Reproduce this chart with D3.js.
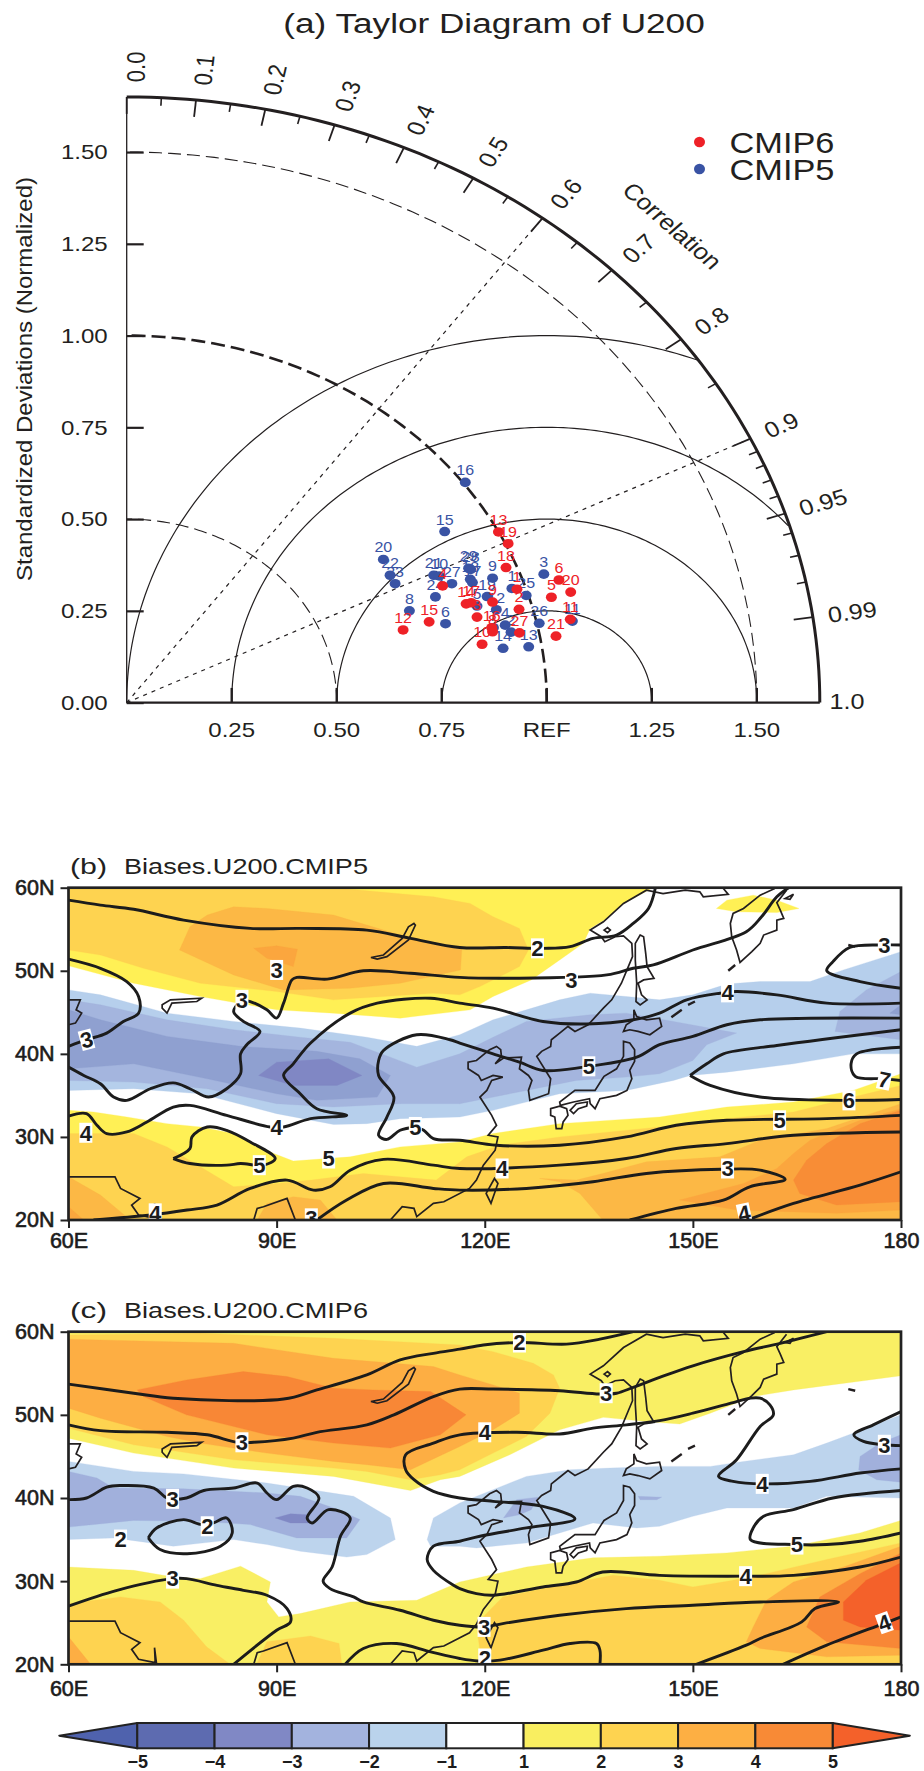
<!DOCTYPE html>
<html>
<head>
<meta charset="utf-8">
<script src="https://cdn.jsdelivr.net/npm/d3@7"></script>
<style>
  html, body { margin: 0; padding: 0; background: #fff; }
  svg { display: block; font-family: "Liberation Sans", Arial, sans-serif; }
</style>
</head>
<body>
<svg id="chart" width="924" height="1771"></svg>
<script>
// ---- (a) taylor diagram values, x = std*corr, y = std*sin(acos(corr))
const cmip5Labels = [16, 15, 20, 22, 23, 8, 21, 10, 27, 24, 6, 29, 28, 18, 17, 9, 19, 12, 5, 1, 25, 3, 26, 11, 4, 7, 2, 14, 13];
const cmip5X = [.806, .757, .611, .627, .639, .673, .731, .744, .774, .735, .759, .814, .819, .818, .823, .871, .858, .880, .834, .917, .951, .993, .982, 1.061, .901, .873, .915, .896, .957];
const cmip5Y = [.600, .466, .390, .347, .324, .250, .347, .345, .324, .288, .215, .366, .363, .336, .327, .339, .289, .253, .263, .311, .292, .350, .216, .222, .211, .204, .192, .148, .152];
const cmip6Labels = [13, 19, 18, 6, 20, 5, 1, 2, 9, 14, 4, 17, 3, 15, 12, 16, 8, 10, 27, 21, 11];
const cmip6X = [.885, .908, .903, 1.029, 1.057, 1.011, .929, .934, .871, .808, .752, .820, .834, .720, .658, .869, .871, .846, .935, 1.022, 1.056];
const cmip6Y = [.465, .433, .368, .334, .301, .287, .309, .254, .274, .269, .318, .272, .233, .220, .198, .204, .193, .159, .190, .181, .227];

const stdTicks = [0, .25, .5, .75, 1, 1.25, 1.5];
const stdBottomLabels = ["0.25", "0.50", "0.75", "REF", "1.25", "1.50"];
const corrMajor = [0, .1, .2, .3, .4, .5, .6, .7, .8, .9, .95, .99];
const corrMinor = [.05, .15, .25, .35, .45, .55, .65, .75, .85, .91, .92, .93, .94, .96, .97, .98];
const corrLines = [.6, .9];
const rmsRadii = [.25, .5, .75, 1];

// ---- coastlines, lon/lat
const coastMain = [[106.4,20],[108.1,21.6],[109.8,21.4],[110.2,20.4],[112.6,22],[114.1,22.2],[117.8,23.8],[118.8,24.8],[119.8,26.6],[121.5,28.4],[121.9,30],[120.5,30.2],[121.7,31.4],[121,32.6],[119.3,34.8],[120.3,35.6],[121,36.8],[122.6,37.2],[121.2,37.4],[119.5,36.8],[119.1,37.4],[117.6,38.2],[117.6,39],[118.8,39.2],[120.7,40.5],[121.7,40.9],[122.3,40.5],[122.4,39.7],[121.5,38.8],[122.7,39.5],[125.3,39.6],[125,38.2],[126.3,37.4],[126.8,36.8],[126.3,35.6],[126.5,34.4],[129.2,35.2],[129.5,37],[127.5,39.7],[128.2,40.3],[129.5,40.9],[129.6,41.7],[130.8,42.5],[132,43.3],[133,42.7],[134.9,43.5],[137.1,45.5],[138.3,46.5],[139.7,48.5],[140.5,50.1],[141.3,51.7],[141.2,53.3],[140,54.2],[138.8,54.1],[137.3,53.5],[136.8,54.1],[135.2,54.9],[137.1,55.9],[140,58.1],[143.3,59.7],[145.7,59.3],[148.9,59.7],[151,59.5],[151.5,58.9],[155.1,59.2],[154.4,59.9]];
const coastKamchatka = [[161.8,59.9],[159.7,59.1],[157.3,57.5],[155.8,56.9],[155.4,55.7],[155.6,54.1],[156.3,52.5],[156.8,51],[158.5,52.3],[159.7,53.3],[160.2,54.3],[162.1,54.9],[162.1,56.1],[163.1,56.3],[162.6,57.3],[162.1,58.2],[163.5,59.7]];
const coastIndiaWest = [[60,25.2],[63.8,25.2],[66.7,25.2],[67.5,23.8],[70.3,22.6],[69.1,21.8],[70.1,20.6],[72.5,20.2],[72.4,22],[72.7,20]];
const coastIndiaEast = [[86.7,20],[87.2,21.4],[88.1,21.6],[91.5,22.6],[92.7,20]];
const coastAral = [[60,46.5],[61.7,46.5],[61.1,45.3],[61.9,44.9],[61,43.7],[60,43.5]];
const coastKuril1 = [[146.9,44.4],[148.4,45.3]];
const coastKuril2 = [[149.3,45.9],[150.3,46.3]];
const coastKuril3 = [[155.1,50],[156.1,50.7]];
const coastDot = [[172.4,53.1],[173.4,52.9]];
const islandSakhalin = [[142.4,54.3],[142.9,54.1],[143.2,52.1],[143.4,50.5],[144.4,49.1],[142.9,48.9],[142.1,48.5],[142.6,47.1],[143.4,46.5],[142.4,45.9],[141.8,46.3],[141.9,48.5],[141.7,51.3],[141.7,53.3]];
const islandHokkaido = [[141.5,45.3],[141.9,44.5],[143.3,44.1],[145.2,44.3],[145.5,43.3],[143.8,42.3],[142.1,42.7],[140.9,42.9],[140,42.7],[140.4,43.5],[141.5,44.1]];
const islandHonshu = [[140,41.5],[140.9,41.3],[141.6,40.5],[141.6,39.1],[140.9,38],[141.2,37],[140.5,35.6],[139,35],[136.6,34.6],[135.9,33.4],[135.2,34],[135.1,34.6],[132.8,34.2],[130.9,33.8],[130.8,34.2],[133,35.6],[135.9,35.6],[136.8,36.8],[137.2,37.3],[139,38.2],[140,39.7],[140,40.9]];
const islandKyushu = [[129.5,33.4],[130.8,33.7],[131.8,33.4],[132,32.6],[131.3,31.8],[131.1,31],[130.3,31],[130.1,32.4],[129.5,32.6]];
const islandShikoku = [[132.3,33.2],[133.2,34],[134.8,34.2],[134.7,33.7],[133.5,33.4],[132.8,32.8]];
const islandTaiwan = [[121.4,25],[120.2,23.2],[120.9,22],[121.9,24.4]];
const islandShantar = [[137.2,54.9],[137.7,55.2],[138.1,54.9],[137.7,54.6]];
const islandKaragin = [[163.3,58.7],[164.5,59.2],[164,58.6]];
const lakeBaikal = [[109.8,55.7],[110,55.5],[109,53.7],[105.9,51.7],[104.5,51.4],[103.6,51.6],[105.4,51.9],[108.1,53.9],[109,55.3]];
const lakeBalkhash = [[73.5,45.9],[74.7,46.5],[79.2,46.7],[78.5,46.3],[74.9,46.1],[74.2,44.9],[73.5,45.5]];

// ---- (b) shaded bias regions, lon/lat
const bYellowTop = [[60,50.6],[69.4,48.5],[79,46.9],[90,45.3],[98.2,44.9],[107.8,44.3],[117.9,45.3],[121.2,46.9],[126.7,48.9],[130.8,51.3],[134.2,53.3],[135.2,55.1],[137.6,56.3],[140,58.1],[143.8,59.8],[144.2,60],[60,60]];
const bYellowPatch = [[153.4,57.5],[154.9,58.5],[158.7,59.1],[162.1,58.5],[165.3,57.5],[162.1,57],[156.3,57.1]];
const bGoldTop = [[60,60],[98.2,60],[112.6,58.9],[117.9,58.1],[121.2,56.5],[125,55.1],[126.3,52.5],[125,50.5],[119.3,48.1],[116.4,47.1],[112.6,47.3],[105.4,46.9],[98.2,46.5],[90,47.5],[79,48.5],[70.8,50.3],[64.6,51.9],[60,52.5]];
const bOrangeTop = [[80,56.7],[83.8,57.7],[88.6,57.5],[98.2,56.7],[107.8,54.3],[116.7,52.7],[116.5,50.1],[107.8,48.5],[100.6,47.9],[91,47.7],[83.8,49.5],[76,52.5],[77.5,55.3]];
const bDeepTop = [[86.7,52.7],[90,53],[93,52.6],[92.4,50.5],[88.6,51.5]];
const bBlueLight = [[60,47.7],[64.6,47.1],[74.2,44.9],[83.8,43.9],[93.4,43.1],[103,42],[110.2,40.9],[116.4,42.3],[121.2,44.1],[126,45.3],[130.8,46.5],[135.2,47.3],[140.4,46.9],[145.2,46.5],[150,47.1],[154.9,48.4],[159.7,48.7],[166.9,48.7],[171.7,50.1],[180,52.3],[180,40],[173.1,40],[164.5,38.8],[154.9,37.8],[149.6,37.4],[147.2,36.8],[140.4,35.6],[130.8,35.2],[121.2,33.2],[116.4,32.4],[107.8,32.2],[103,31.6],[98.2,31.5],[90,32.8],[79,35.2],[69.4,35.8],[60,35.6]];
const bBlueMid = [[60,46.5],[64.6,45.9],[74.2,44.1],[83.8,42.9],[93.4,42],[100.6,41.4],[106.4,39.6],[110.2,38.4],[116.4,40],[121.2,42],[126,43.9],[135.2,44.7],[140.4,44.9],[147.2,43.9],[156.3,42.5],[152,41.1],[150,39.2],[145.2,37.6],[140.4,37.2],[133.2,36.8],[126,35.6],[116.4,34],[107.8,34],[98.2,33.6],[90,34],[80,35.8],[69.4,36.6],[60,36.8]];
const bBlueMidEast = [[170.5,42.7],[171.2,45.1],[175,47.7],[180,49.9],[180,41.7]];
const bBlueDark = [[60,45.3],[64.6,44.1],[74.2,42.1],[84.8,40.9],[95.8,40.3],[102,39.4],[106.4,37.4],[104.5,34.8],[95.8,34.4],[90,35.2],[80,37],[69.4,38.8],[60,38.2]];
const bBlueDarkEast = [[178.4,44.9],[180,45.9],[180,44.7]];
const bBlueDeep = [[87.4,37.4],[90,39],[97.5,39.4],[102.3,37.4],[98.7,36.2],[92.4,36.2]];
const bYellowLow = [[60,33.2],[63.6,33],[68.4,32.4],[74.2,31.6],[79,31.2],[83.8,30.4],[89.6,28],[92.4,27.1],[100.6,27.6],[107.8,28.8],[116.4,29.4],[121.2,30.4],[130.8,31.6],[145.2,32.4],[154.9,33.6],[164.5,34.2],[173.1,35.6],[180,37.6],[180,20],[60,20]];
const bGoldLow = [[60,30.4],[69.4,30.4],[74.2,28.8],[79,26.4],[83.8,24],[90,24.4],[95,24.8],[102.5,25.6],[113,24.8],[117.4,27.6],[122.2,29],[130.8,30],[145.2,31.2],[154.9,32.2],[164.5,33],[173.1,34.8],[180,36.2],[180,20],[60,20]];
const bOrangeSW = [[60,25.2],[64.6,23],[68.9,20],[60,20]];
const bDeepSW = [[60,21.6],[62.2,20],[60,20]];
const bOrangeMid = [[87.2,20],[88.6,22],[92.4,22.8],[96.3,22.4],[98.7,20]];
const bOrangeEast = [[127.9,25],[133.2,24.8],[137,25.6],[143.3,27],[153.9,27.6],[159.7,29.6],[169.3,31],[180,34],[180,20],[137,20],[133.7,23.2],[130.8,24.6]];
const bDeepEast = [[148.1,22.4],[157.3,24.4],[162.1,26.2],[164.5,28],[166.9,29.6],[174.1,32],[180,33.4],[180,21.2],[170.7,20.8],[156.3,21.2]];
const bStrongEast = [[164.5,24.8],[166.4,27.2],[169.3,29.2],[174.1,31.6],[180,33.2],[180,22.2],[170.7,21.8],[165.4,23.2]];

// ---- (b) contour lines
const bLine2 = [[60,58.5],[64.6,57.9],[69.4,57.4],[76.6,56.1],[86.2,55.1],[93.4,55.1],[103,54.9],[109.3,53.9],[116.4,52.8],[123.1,52.8],[128.4,52.7],[132.3,52.9],[135.6,53.9],[139,54.3],[141.4,55.7],[143.6,57.5],[144.6,60]];
const bLine3a = [[85,46.5],[86.2,46.3],[88.6,45.3],[90,44.3],[91,46.1],[92.2,48.9],[92.9,49.2],[97.3,49],[102.5,50],[109.3,49.7],[116.4,49.2],[123.6,49.1],[137.6,49.5],[141.4,50.3],[144.3,50.7],[150,52.5],[157.7,54.7],[159.9,56.5],[162.1,58.9],[163.8,60]];
const bLine3b = [[85,46.5],[83.8,45.1],[85.2,43.9],[87.6,42.7],[85.7,41.1],[84.8,40],[84.8,37.6],[82.8,35.8],[80.2,34.8],[77.5,35.8],[75.1,36.5],[71.8,35.8],[68.4,34.4],[66.5,34.8],[64.6,36.4],[62.2,37.4],[60,38.4]];
const bLine3c = [[60,51.4],[64.6,50.3],[68.4,48.7],[70.1,46.9],[70.1,44.9],[67.9,43.9],[65.5,42.5],[62.6,41.7],[60,40.9]];
const bLine4a = [[60,32.5],[62.6,32.8],[64.1,31.4],[65.5,30.4],[68.4,30.6],[71.3,31.8],[75.1,33.6],[77.5,33.8],[82.8,32.6],[89.1,31.2],[91,31.2],[94.9,32.2],[100.1,32.6],[95.8,33.4],[93.4,35.2],[91,37.4],[92.4,38.8],[94.9,41.3],[100.6,44.9],[104.5,46.1],[112.2,46.7],[116.4,46.1],[121.2,45.5],[128.4,43.9],[134.7,43.6],[141.4,44.1],[145.2,44.9],[149.1,46.5],[153.9,47.3],[156.3,47.5],[162.1,47.1],[169.3,46.1],[180,46.1]];
const bLine5a = [[110,31.2],[107.8,30.8],[105.9,29.7],[104.7,30.2],[105.9,32.4],[106.9,34.8],[104.7,37.4],[104.7,39.2],[105.4,40.4],[110.2,42.3],[115,41.7],[116.4,41.3],[121.2,40],[125,39],[128.4,38],[134.2,38.4],[141.9,39.6],[145.2,41.1],[150,42.1],[154.9,43.5],[159.7,44.1],[180,44.3]];
const bLine5b = [[110,31.2],[111.2,30.8],[112.6,29.8],[116.4,29.6],[121.7,29],[130.8,29],[140.4,30],[147.6,31.4],[154.9,32],[169.3,32.2],[180,32.6]];
const bLine5c = [[75.1,27.4],[77.5,28.6],[77.8,30],[80,31.2],[82.8,30.8],[86.2,29.4],[89.8,27.4],[88.1,26.6],[84.8,26.8],[82.8,26.6],[77.5,26.8],[75.1,27.4]];
const bLine4b = [[63.6,20],[71.8,20.6],[77.1,21.2],[81.4,21.8],[86.2,23.8],[91.5,24.8],[95.3,23.6],[97.7,24],[100.6,26],[105.4,27.3],[112.6,26.6],[116.4,26.2],[130.8,26.6],[140.4,27.4],[147.6,28.6],[154.9,29.2],[164.5,30.2],[180,30.6]];
const bLine3d = [[95.8,20],[100.1,22.4],[105.4,24.4],[112.6,23.8],[116.4,23.6],[126,23.8],[135.6,24.6],[143.3,25.6],[154.1,26.1],[159.7,26],[163.3,24.9],[158.2,24],[154.4,22.4],[147.6,21.4],[140.9,20]];
const bLine4c = [[158.5,20.2],[164.5,22],[174.1,24.2],[180,25.8]];
const bLine6a = [[149.6,37.4],[152,38.8],[154.4,40],[162.1,41],[180,42.9]];
const bLine6b = [[149.6,37.4],[152.5,36.2],[159.7,34.8],[171.7,34.4],[180,34.5]];
const bLine7 = [[180,40.8],[173.6,40],[172.8,38.8],[173.4,37.3],[177.5,37],[180,36.8]];
const bLine3e = [[180,53.1],[177.5,53.1],[172.6,52.8],[170.2,51.1],[169.3,50],[174.1,48.7],[180,47.9]];
// [lon, lat, text, tilt]
const bLabels = [[127.6,52.7,"2",0],[132.5,48.9,"3",0],[85,46.5,"3",0],[90,50.1,"3",0],[62.6,41.7,"3",-15],[62.5,30.5,"4",0],[90,31.2,"4",0],[110,31.2,"5",0],[97.5,27.4,"5",0],[87.5,26.6,"5",0],[72.5,20.8,"4",0],[95,20.2,"3",0],[155,47.4,"4",0],[177.6,53.1,"3",0],[135,38.5,"5",0],[177.6,36.9,"7",12],[172.5,34.4,"6",0],[162.5,32,"5",0],[122.5,26.2,"4",0],[155,26.2,"3",0],[157.4,20.8,"4",-12]];

// ---- (c) shaded bias regions
const cYellowTop = [[60,47.2],[69.4,45.4],[83.8,43.6],[98.2,42.6],[109.3,40.9],[113.6,42.2],[116.4,42.6],[123.6,45.2],[130.8,48.2],[137.1,49.7],[143.3,49.2],[148.1,48.9],[152.5,50.2],[158.7,52.2],[164.5,53],[180,54.7],[180,60],[60,60]];
const cGoldTop = [[60,59.6],[79,59.8],[98.2,59.2],[116.4,58.4],[121.2,57.6],[127,56.2],[129.9,54.8],[130.8,53.2],[129.4,50.2],[126,47.4],[121.2,45.4],[116.4,43.4],[113.6,42.8],[109.3,42.2],[103,43.2],[98.2,43.6],[83.8,44.6],[74.2,45.8],[69.4,46.4],[60,48.4]];
const cOrangeTop = [[60,59.1],[83.8,58.6],[98.2,56.8],[112.6,55.8],[116.4,54.8],[121.2,53.6],[125,52.6],[125,50.2],[121.2,48.2],[116.4,46.2],[109.3,43.4],[103,44],[98.2,44.4],[88.6,45.4],[79,46.6],[74.2,47.4],[64.6,49.6],[60,50.8]];
const cDeepTop = [[69.9,53],[77,54.2],[85.2,55.2],[91.5,54.6],[98.2,53.2],[103.9,53],[112.2,52.8],[117.3,50],[113.6,47.6],[106.4,46],[98.2,46.6],[88.6,47.6],[77,50],[70.8,52.2]];
const cBlueLightW = [[60,44.4],[69.4,43.2],[76.6,42.9],[88.6,41.8],[101.1,40.2],[106.4,37.6],[107.1,35],[103,33.2],[100.1,32.9],[93.4,33.6],[88.6,34.4],[83.8,35],[75.1,34.2],[71.8,34.6],[66.5,35.2],[60,35]];
const cBlueLightE = [[112.6,37.6],[116.4,39.4],[121.2,41],[126,42.6],[132.3,43.4],[138,43.6],[145.2,43.8],[152.5,43.8],[157.3,44.4],[164.5,45.2],[169.3,46.6],[173.1,47.8],[180,50],[180,40],[169.3,40.2],[164.5,38.8],[154.9,38.8],[150,37.8],[145.2,36.6],[141.9,36.4],[135.6,37],[126,34.6],[118.8,34],[116.4,34.2],[112.2,34.2],[111.7,35]];
const cBlueMidW = [[60,43.2],[64.1,42.4],[66.5,41.2],[76.6,41.1],[88.6,40.6],[93.4,40.2],[98.2,38.8],[102,37.4],[100.1,35.2],[92.9,35.2],[86.2,36.8],[79,37.2],[69.4,37.3],[60,36.5]];
const cBlueMidKorea = [[122.7,37.6],[124.6,39.8],[127.7,40.1],[126.7,38.6],[125,38]];
const cBlueMidJapan = [[142.1,40.2],[145.5,40.1],[144.8,39.8],[142.4,39.8]];
const cBlueMidE = [[173.9,43.4],[174.1,45],[177,46.6],[180,47.6],[180,41.9],[176.5,42.2]];
const cBlueDeep = [[89.8,37.6],[92,38.1],[94.4,38],[94.9,37],[92,37]];
const cYellowLow = [[60,31.7],[69.4,31.3],[75.1,30.5],[79,30.3],[84.8,31.8],[89.1,29.9],[88.6,27.5],[90.3,25.7],[93.4,26.1],[100.6,27.5],[110.2,27.7],[116.4,29.9],[126,31.7],[135.6,32.8],[145.2,33],[154.9,33.4],[164.5,34.2],[174.1,35.8],[180,37.3],[180,20],[60,20]];
const cGoldEast = [[119.6,20],[119,23.5],[119.3,25.3],[122.6,28.1],[130.8,29.5],[138.5,30.7],[145.2,30.1],[150,29.3],[155.8,30.1],[160.6,30.9],[169.3,32.6],[180,34.6],[180,20]];
const cGoldWest = [[60,27.3],[67.5,28.1],[73.2,27.5],[76.6,25.3],[79.9,22.1],[83.3,20],[60,20]];
const cGoldMid = [[87.1,20],[88.6,22.7],[94.9,23.4],[99,22.5],[99.4,20]];
const cOrangeSW = [[60,23.3],[63.2,20],[60,20]];
const cOrangeEast = [[157.7,22.7],[158.7,24.5],[160.6,27.7],[164.5,29.9],[171.7,31.7],[180,34.2],[180,21.1],[169.3,20.9],[159.7,21.9]];
const cDeepEast = [[166.4,24.5],[168.3,28.1],[174.1,30.9],[180,33.4],[180,21.9],[169.3,22.7]];
const cRedEast = [[171.7,25.3],[171.7,27.5],[175,30.1],[180,32.2],[180,24.1],[174.1,24.5]];

// ---- (c) contour lines
const cLine2a = [[60,53.7],[69.4,52.6],[75.1,52],[91,51.9],[95.8,53],[103,54.8],[107.8,56.6],[112.6,57.4],[116.4,57.9],[119.8,58.4],[125,58.7],[131.8,58.5],[136.6,59.1],[141.4,60]];
const cLine3a = [[60,48.8],[64.6,48.1],[74.2,47.9],[80,47.6],[84.3,46.7],[86.7,46.7],[92.4,47.2],[95.8,47.9],[103,48.8],[106.9,50],[112.6,52.2],[116.4,53.1],[121.2,53.1],[130.8,52.9],[136.6,52.5],[139,52.6],[141.4,53.3],[145.2,54.5],[150,55.9],[157.3,57.6],[162.6,58.6],[169.3,60]];
const cLine4a = [[180,43.5],[174.1,43],[166.9,42],[160,41.7],[155.8,42],[153.7,42.6],[156.3,44.6],[159.7,48.6],[161.6,50],[161.1,51.2],[159.7,52],[158.2,52],[156.3,51.6],[150,50.2],[145.2,49.3],[140.4,48.8],[135.6,48.4],[130.8,47.7],[124.6,47.9],[116.4,47.6],[112.6,46.6],[108.6,45.2],[108.6,43.4],[109.8,42.2],[112.6,40.8],[116.4,40],[121.2,39.6],[128.4,39],[133,37.5],[126,36.4],[119.3,35.4],[116.4,34.8],[112.6,34.2],[111.7,32.6],[112.6,31.3],[115.5,29.5],[116.4,29.1],[118.8,28.5],[121.2,28.3],[128.4,29.3],[133.2,29.9],[137,31.1],[145.2,30.7],[157.5,30.6],[164.5,30.7],[174.1,31.7],[180,32.9]];
const cLine3b = [[60,39.8],[62.6,40],[65.5,41.3],[67.5,41.5],[72.3,41.2],[74.2,40],[77,40],[79.5,40.9],[83.8,41.2],[87.2,41.8],[88.6,40.6],[90,39.8],[92.4,41.4],[94.4,41.2],[96.1,40],[94.4,37.6],[95.1,37],[97.5,38.6],[100.6,37.6],[99.2,35.4],[98,31.7],[96.7,30],[97.7,29.1],[101.1,28.1],[102.5,27.5],[107.8,26.5],[112.6,25.3],[116.4,24.7],[119.9,24.5],[122.6,24.9],[130.8,25.9],[140.4,26.7],[150,27.1],[159.7,27.5],[171,27.5],[167.6,26.7],[165.7,25.1],[159.7,23.1],[157.7,22.3],[150.5,20]];
const cLine2b = [[71.5,35.2],[72.7,36.4],[76.6,37.4],[79.2,36.8],[80.9,37],[82.8,37.6],[83.6,35.8],[81.9,34.2],[77.1,33.3],[73.2,33.8],[71.5,35.2]];
const cLine3c = [[60,27],[67,28.9],[75,30.3],[77,30.3],[81.4,29.5],[85.2,28.9],[88.6,28.3],[91.5,26.7],[92,25.1],[90,24.1],[83.8,20]];
const cLine2c = [[99.9,20],[102.5,21.9],[107.3,22.5],[112.2,21.5],[116.4,20.7],[119,20.4],[122.2,20.5],[128.4,21.7],[132.3,22.5],[136.1,22.5],[136.6,21.7],[136.6,20]];
const cLine4b = [[163,20],[169.3,22.3],[177.5,24.9],[180,25.7]];
const cLine5 = [[180,40.9],[170.2,40],[164.5,38.6],[160.2,37.8],[158.7,36.4],[158.3,35],[165,34.4],[169.3,34.4],[174.1,34.8],[180,35.8]];
const cLine3d = [[180,50.4],[176,48.8],[173.2,47.6],[174.6,46.8],[177.5,46.4],[180,46.3]];
const cLabels = [[85,46.7,"3",0],[75,39.9,"3",0],[80,36.6,"2",0],[67.5,35,"2",0],[75,30.3,"3",0],[125,58.7,"2",0],[137.5,52.6,"3",0],[120,47.9,"4",0],[119.9,24.5,"3",0],[120,20.7,"2",0],[160,41.7,"4",0],[165,34.4,"5",0],[157.6,30.6,"4",0],[177.6,46.4,"3",0],[177.6,25,"4",-20]];

// ---- colour bar
const barLevels = [-5, -4, -3, -2, -1, 1, 2, 3, 4, 5];
const barColors = ["#4f62ad", "#5d6bb0", "#8088c5", "#a3b3de", "#bad3ec", "#ffffff", "#f9ee60", "#fed350", "#fdaf43", "#f88a36", "#f4612a"];

const lonTicks = [60, 90, 120, 150, 180];
const latTicks = [20, 30, 40, 50, 60];

const svg = d3.select("#chart");
const ink = "#231f20";
const stretch = 1.145; // the reference is wider than tall

// text helper, keeps the horizontal stretch of the original figure
function label(parent, x, y, txt, size, angle = 0, anchor = "middle") {
  return parent.append("text")
    .attr("transform", `translate(${x},${y}) scale(${stretch},1) rotate(${angle})`)
    .attr("text-anchor", anchor)
    .attr("font-size", size)
    .attr("fill", ink)
    .text(txt);
}

// ---------- (a) taylor diagram ----------
const tx = d3.scaleLinear().domain([0, 1.65]).range([126.7, 819.8]);
const ty = d3.scaleLinear().domain([0, 1.65]).range([702.6, 97]);
const tLine = d3.line().x(d => tx(d[0])).y(d => ty(d[1]));
const taylor = svg.append("g");

label(taylor, 494, 33, "(a) Taylor Diagram of U200", 27).attr("textLength", 368).attr("lengthAdjust", "spacingAndGlyphs");

function stdArc(r) {
  return d3.range(0, 90.01, 1).map(a => [r * Math.cos(a * Math.PI / 180), r * Math.sin(a * Math.PI / 180)]);
}
function rmsArc(r) {
  return d3.range(0, 180.01, 1)
    .map(a => [1 + r * Math.cos(a * Math.PI / 180), r * Math.sin(a * Math.PI / 180)])
    .filter(p => Math.hypot(p[0], p[1]) <= 1.65);
}

rmsRadii.forEach(r => {
  taylor.append("path").attr("d", tLine(rmsArc(r)))
    .attr("fill", "none").attr("stroke", ink).attr("stroke-width", 1.2);
});
[.5, 1.5].forEach(r => {
  taylor.append("path").attr("d", tLine(stdArc(r)))
    .attr("fill", "none").attr("stroke", ink).attr("stroke-width", 1.1).attr("stroke-dasharray", "13 6");
});
taylor.append("path").attr("d", tLine(stdArc(1)))
  .attr("fill", "none").attr("stroke", ink).attr("stroke-width", 2.6).attr("stroke-dasharray", "14 6");
corrLines.forEach(c => {
  const s = Math.sqrt(1 - c * c);
  taylor.append("path").attr("d", tLine([[0, 0], [1.65 * c, 1.65 * s]]))
    .attr("fill", "none").attr("stroke", ink).attr("stroke-width", 1.2).attr("stroke-dasharray", "4 5");
});

// corr ticks and labels
function corrTick(c, len) {
  const s = Math.sqrt(1 - c * c);
  return [[1.65 * c, 1.65 * s], [(1.65 - len) * c, (1.65 - len) * s]];
}
corrMajor.forEach(c => {
  taylor.append("path").attr("d", tLine(corrTick(c, .046)))
    .attr("stroke", ink).attr("stroke-width", 1.8);
  const s = Math.sqrt(1 - c * c);
  const deg = Math.acos(c) * 180 / Math.PI;
  const shift = c >= .95 ? 1.745 : 1.732;
  const nudge = c === 0 ? 10 : c <= .1 ? 5 : c < .9 ? 3 : 0;
  label(taylor, tx(shift * c) + nudge, ty(shift * s), d3.format(c >= .95 ? ".2f" : ".1f")(c), 22, -deg)
    .attr("dominant-baseline", "central");
});
corrMinor.forEach(c => {
  taylor.append("path").attr("d", tLine(corrTick(c, .022)))
    .attr("stroke", ink).attr("stroke-width", 1.6);
});
label(taylor, 847, 702, "1.0", 22).attr("dominant-baseline", "central");
label(taylor, 672, 226, "Correlation", 22, 45).attr("dominant-baseline", "central")
  .attr("textLength", 112).attr("lengthAdjust", "spacingAndGlyphs");

// outer arc, axes
taylor.append("path").attr("d", tLine(stdArc(1.65)))
  .attr("fill", "none").attr("stroke", ink).attr("stroke-width", 3);
taylor.append("path").attr("d", tLine([[0, 1.65], [0, 0]]))
  .attr("fill", "none").attr("stroke", ink).attr("stroke-width", 1.3);
taylor.append("path").attr("d", tLine([[0, 0], [1.65, 0]]))
  .attr("fill", "none").attr("stroke", ink).attr("stroke-width", 2.4);

// y axis
const yAxisG = taylor.append("g").attr("transform", `translate(${tx(0)},0)`)
  .call(d3.axisLeft(ty).tickValues(stdTicks).tickSize(-17).tickPadding(19).tickFormat(d3.format(".2f")));
yAxisG.select(".domain").remove();
yAxisG.selectAll(".tick line").attr("stroke", ink).attr("stroke-width", 2.2);
yAxisG.selectAll(".tick text")
  .attr("font-size", 21).attr("font-family", "Liberation Sans").attr("fill", ink)
  .attr("x", -19 / stretch).attr("transform", `scale(${stretch},1)`);

// bottom axis ticks and labels
stdTicks.slice(1).forEach(v => {
  taylor.append("path").attr("d", tLine([[v, 0], [v, .04]]))
    .attr("stroke", ink).attr("stroke-width", 2.4);
});
stdBottomLabels.forEach((t, i) => {
  label(taylor, tx(stdTicks[i + 1]), 737, t, 21);
});
label(taylor, 25, 379, "Standardized Deviations (Normalized)", 20, -90)
  .attr("dominant-baseline", "central")
  .attr("textLength", 404).attr("lengthAdjust", "spacingAndGlyphs");

// points + numbers, blue under red
function drawSeries(labels, xs, ys, color) {
  labels.forEach((n, i) => {
    taylor.append("ellipse")
      .attr("cx", tx(xs[i])).attr("cy", ty(ys[i]))
      .attr("rx", 5.5).attr("ry", 4.8).attr("fill", color);
    label(taylor, tx(xs[i]), ty(ys[i]) - 7, n, 14).attr("fill", color);
  });
}
drawSeries(cmip5Labels, cmip5X, cmip5Y, "#3953a4");
drawSeries(cmip6Labels, cmip6X, cmip6Y, "#ee2127");

// legend
[["CMIP6", "#ee2127", 142, 153], ["CMIP5", "#3953a4", 169, 180]].forEach(d => {
  taylor.append("ellipse").attr("cx", 699.5).attr("cy", d[2]).attr("rx", 5.5).attr("ry", 5.2).attr("fill", d[1]);
  label(taylor, 729.5, d[3], d[0], 30, 0, "start");
});

// ---------- (b) (c) maps ----------
const x = d3.scaleLinear().domain([60, 180]).range([68.5, 901]);
const coastLines = [coastMain, coastKamchatka, coastIndiaWest, coastIndiaEast, coastAral];
const coastRings = [islandSakhalin, islandHokkaido, islandHonshu, islandKyushu, islandShikoku, islandTaiwan, islandShantar, islandKaragin, lakeBaikal, lakeBalkhash];
const coastDashes = [coastKuril1, coastKuril2, coastKuril3, coastDot];

function drawMap(o) {
  const y = d3.scaleLinear().domain([20, 60]).range([o.bottom, o.top]);
  const line = d3.line().x(d => x(d[0])).y(d => y(d[1]));
  const smooth = d3.line().x(d => x(d[0])).y(d => y(d[1])).curve(d3.curveCatmullRom.alpha(.5));
  const g = svg.append("g");
  const clipId = "clip-" + o.id;
  g.append("clipPath").attr("id", clipId).append("rect")
    .attr("x", x(60)).attr("y", o.top).attr("width", x(180) - x(60)).attr("height", o.bottom - o.top);

  const inner = g.append("g").attr("clip-path", `url(#${clipId})`);
  o.fills.forEach(f => {
    inner.append("path").attr("d", line(f[1]) + "Z").attr("fill", f[0]).attr("stroke", f[0]).attr("stroke-width", .3);
  });
  coastLines.forEach(c => inner.append("path").attr("d", line(c))
    .attr("fill", "none").attr("stroke", ink).attr("stroke-width", 1.7));
  coastRings.forEach(c => inner.append("path").attr("d", line(c) + "Z")
    .attr("fill", "none").attr("stroke", ink).attr("stroke-width", 1.7));
  coastDashes.forEach(c => inner.append("path").attr("d", line(c))
    .attr("fill", "none").attr("stroke", ink).attr("stroke-width", 2.4));

  o.lines.forEach(c => inner.append("path").attr("d", smooth(c))
    .attr("fill", "none").attr("stroke", "#1c1c1c").attr("stroke-width", 2.9).attr("stroke-linejoin", "round"));

  o.labels.forEach(d => {
    const t = inner.append("g").attr("transform", `translate(${x(d[0])},${y(d[1])}) rotate(${d[3]})`);
    t.append("rect").attr("x", -6.5).attr("y", -10).attr("width", 13).attr("height", 20).attr("fill", "#fff");
    t.append("text").attr("y", 7.8).attr("text-anchor", "middle")
      .attr("font-size", 22).attr("font-weight", "bold").attr("fill", "#1c1c1c").text(d[2]);
  });

  // frame + axes
  g.append("rect").attr("x", x(60)).attr("y", o.top).attr("width", x(180) - x(60)).attr("height", o.bottom - o.top)
    .attr("fill", "none").attr("stroke", "#222").attr("stroke-width", 2.7);

  const left = g.append("g").attr("transform", `translate(${x(60)},0)`)
    .call(d3.axisLeft(y).tickValues(latTicks).tickSize(8).tickPadding(6).tickFormat(d => d + "N"));
  const bottom = g.append("g").attr("transform", `translate(0,${o.bottom})`)
    .call(d3.axisBottom(x).tickValues(lonTicks).tickSize(8).tickPadding(o.padBottom).tickFormat(d => d === 180 ? "180" : d + "E"));
  [left, bottom].forEach(a => {
    a.select(".domain").remove();
    a.selectAll(".tick line").attr("stroke", "#222").attr("stroke-width", 2);
    a.selectAll(".tick text").attr("font-size", 21.5).attr("font-family", "Liberation Sans")
      .attr("fill", "#1c1c1c").attr("stroke", "#1c1c1c").attr("stroke-width", .6);
  });

  g.append("text").attr("x", 70).attr("y", o.titleY).attr("font-size", 22).attr("fill", ink).text(o.tag)
    .attr("textLength", 37).attr("lengthAdjust", "spacingAndGlyphs");
  g.append("text").attr("x", 124).attr("y", o.titleY).attr("font-size", 22).attr("fill", ink).text(o.title)
    .attr("textLength", 244).attr("lengthAdjust", "spacingAndGlyphs");
}

const bY = "#fff055", gold = "#fed350", bO = "#fcb845", bD = "#fba63e", bS = "#f88d36";
const bL = "#b6cfec", bM = "#a4b5de", bK = "#8fa0d0", bZ = "#8087c4";
drawMap({
  id: "b", top: 887.7, bottom: 1220, padBottom: 5, titleY: 874,
  tag: "(b)", title: "Biases.U200.CMIP5",
  fills: [[bY, bYellowTop], [bY, bYellowPatch], [gold, bGoldTop], [bO, bOrangeTop], [bD, bDeepTop],
    [bL, bBlueLight], [bM, bBlueMid], [bM, bBlueMidEast], [bK, bBlueDark], [bK, bBlueDarkEast], [bZ, bBlueDeep],
    [bY, bYellowLow], [gold, bGoldLow], [bO, bOrangeSW], [bD, bDeepSW], [bO, bOrangeMid],
    [bO, bOrangeEast], [bD, bDeepEast], [bS, bStrongEast]],
  lines: [bLine2, bLine3a, bLine3b, bLine3c, bLine4a, bLine5a, bLine5b, bLine5c, bLine4b, bLine3d, bLine4c, bLine6a, bLine6b, bLine7, bLine3e],
  labels: bLabels
});

const cY = "#f9ef64", cO = "#fdae43", cD = "#f88736", cR = "#f4612a";
const cL = "#bdd4ed", cM = "#a1b0dc", cZ = "#8088c4";
drawMap({
  id: "c", top: 1331.7, bottom: 1664.3, padBottom: 8, titleY: 1318,
  tag: "(c)", title: "Biases.U200.CMIP6",
  fills: [[cY, cYellowTop], [gold, cGoldTop], [cO, cOrangeTop], [cD, cDeepTop],
    [cL, cBlueLightW], [cL, cBlueLightE], [cM, cBlueMidW], [cM, cBlueMidKorea], [cM, cBlueMidJapan], [cM, cBlueMidE], [cZ, cBlueDeep],
    [cY, cYellowLow], [gold, cGoldEast], [gold, cGoldWest], [gold, cGoldMid], [cO, cOrangeSW],
    [cO, cOrangeEast], [cD, cDeepEast], [cR, cRedEast]],
  lines: [cLine2a, cLine3a, cLine4a, cLine3b, cLine2b, cLine3c, cLine2c, cLine4b, cLine5, cLine3d],
  labels: cLabels
});

// ---------- colour bar ----------
const cb = d3.scalePoint().domain(barLevels).range([137.3, 832.6]);
const barTop = 1723, barBottom = 1748.3, barMid = (barTop + barBottom) / 2;
const step = cb.step();
const bar = svg.append("g");
bar.append("path")
  .attr("d", `M${cb(-5)},${barTop}L${cb(-5) - step * 1.01},${barMid}L${cb(-5)},${barBottom}Z`)
  .attr("fill", barColors[0]).attr("stroke", "#222").attr("stroke-width", 2).attr("stroke-linejoin", "round");
bar.append("path")
  .attr("d", `M${cb(5)},${barTop}L${cb(5) + step},${barMid}L${cb(5)},${barBottom}Z`)
  .attr("fill", barColors[10]).attr("stroke", "#222").attr("stroke-width", 2).attr("stroke-linejoin", "round");
bar.selectAll("rect").data(barLevels.slice(0, -1)).join("rect")
  .attr("x", d => cb(d)).attr("y", barTop)
  .attr("width", step).attr("height", barBottom - barTop)
  .attr("fill", (d, i) => barColors[i + 1])
  .attr("stroke", "#222").attr("stroke-width", 2);
const barAxis = bar.append("g").attr("transform", `translate(0,${barBottom})`)
  .call(d3.axisBottom(cb).tickSize(0).tickPadding(7).tickFormat(d => d < 0 ? "\u2212" + (-d) : d));
barAxis.select(".domain").remove();
barAxis.selectAll("text").attr("font-size", 18).attr("font-weight", "bold")
  .attr("font-family", "Liberation Sans").attr("fill", "#1c1c1c");
</script>
</body>
</html>
